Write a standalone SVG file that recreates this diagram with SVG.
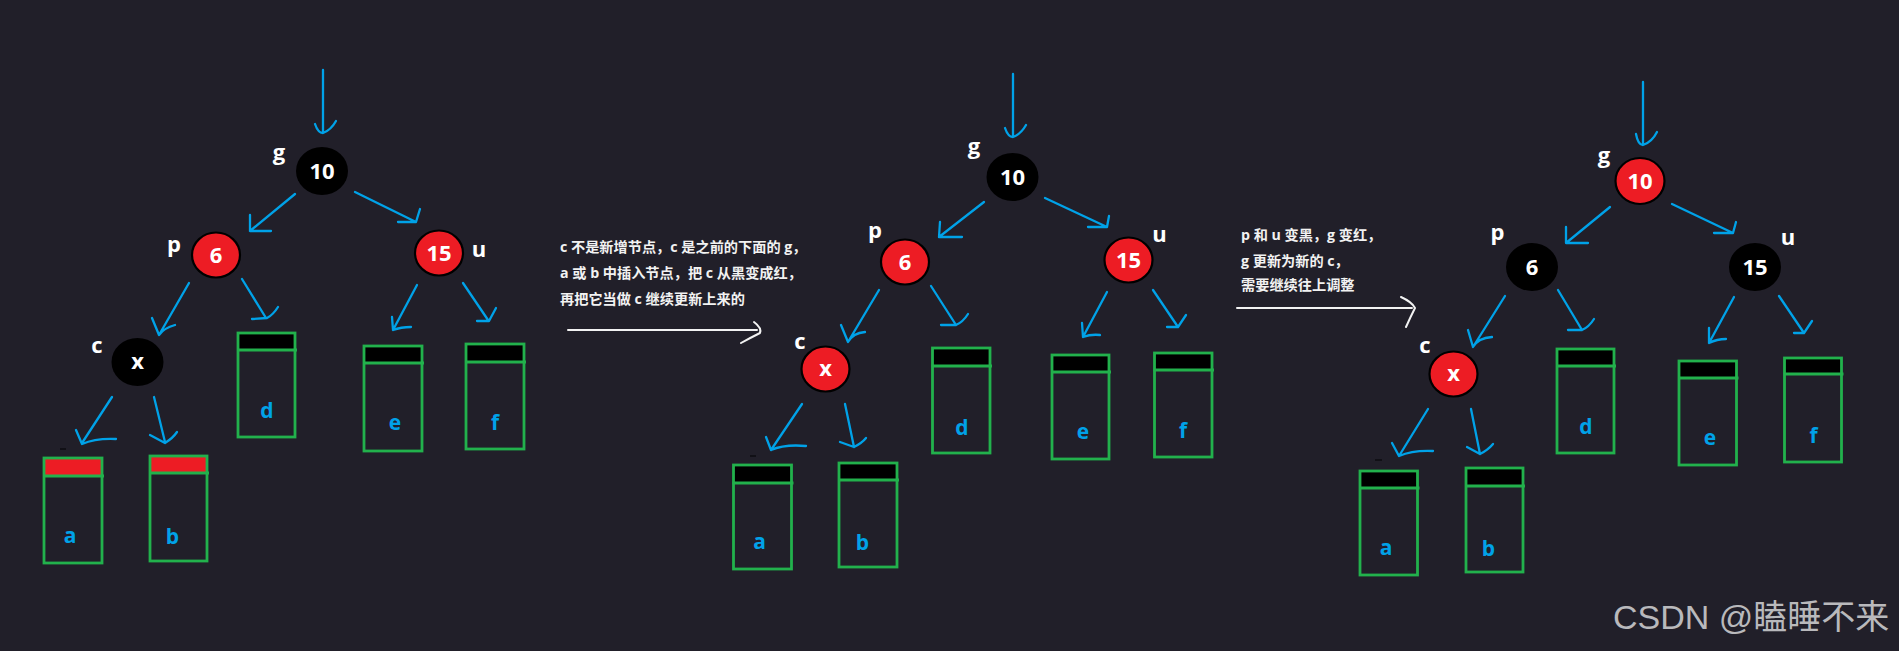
<svg xmlns="http://www.w3.org/2000/svg" width="1899" height="651" viewBox="0 0 1899 651">
<style>
.bg{fill:#211f29}
.ar{fill:none;stroke:#00a2e8;stroke-width:2.3;stroke-linecap:round;stroke-linejoin:round}
.wa{fill:none;stroke:#f2f2f2;stroke-width:2;stroke-linecap:round;stroke-linejoin:round}
.blk{fill:#000}
.red{fill:#ed1c24;stroke:#000;stroke-width:2.2}
.nt{font-family:"Open Sans","DejaVu Sans",sans-serif;font-weight:bold;font-size:22px;fill:#fff;text-anchor:middle}
.lb{font-family:"Open Sans","DejaVu Sans",sans-serif;font-weight:bold;font-size:22px;fill:#fff;text-anchor:middle}
.bl{font-family:"Open Sans","DejaVu Sans",sans-serif;font-weight:bold;font-size:21px;fill:#00a2e8;text-anchor:middle}
.box{fill:none;stroke:#22b14c;stroke-width:2.8}
.hl{stroke:#22b14c;stroke-width:2.8}
.hb{fill:#000}
.hr{fill:#ed1c24}
.tx{font-family:"Open Sans","Noto Sans CJK SC",sans-serif;font-weight:bold;font-size:14.2px;fill:#f2f2f2}
.wm{font-family:"Liberation Sans","Noto Sans CJK SC",sans-serif;font-size:34px;fill:#b9b9bc}
.dash{stroke:#0c0c10;stroke-width:1.5}
</style>
<rect class="bg" x="0" y="0" width="1899" height="651"/>

<g id="connectors">
  <!-- panel 1 -->
  <path class="ar" d="M323,70 L323,133 M315,124 Q318,133 323,133 Q331,130 336,121"/>
  <path class="ar" d="M295,194 L250,231 M250,215 L250,231 L271,231"/>
  <path class="ar" d="M355,192 L416,222 M398,222 L416,222 L420,209"/>
  <path class="ar" d="M189,283 L159,335 M152,318 L159,335 Q164,328 175,325"/>
  <path class="ar" d="M242,279 L266,318 M252,319 L267,318 Q273,315 278,307"/>
  <path class="ar" d="M417,285 L393,330 M392,317 L393,330 Q401,327 411,327"/>
  <path class="ar" d="M463,283 L488,320 M477,321 L489,321 L496,308"/>
  <path class="ar" d="M112,397 L82,443 M76,430 L82,444 Q96,438 116,439"/>
  <path class="ar" d="M154,397 L165,442 M150,435 L165,443 Q173,438 177,432"/>
  <!-- panel 2 -->
  <path class="ar" d="M1013,74 L1013,137 M1005,128 Q1008,137 1013,137 Q1021,134 1026,125"/>
  <path class="ar" d="M984,202 L939,237 M940,222 L939,237 L962,237"/>
  <path class="ar" d="M1045,198 L1107,227 M1088,227 L1107,227 L1109,216"/>
  <path class="ar" d="M879,290 L848,342 M841,325 L848,342 Q853,333 865,332"/>
  <path class="ar" d="M931,286 L956,325 M941,325 L956,325 Q963,322 968,314"/>
  <path class="ar" d="M1107,292 L1083,337 M1082,323 L1083,337 Q1091,334 1100,335"/>
  <path class="ar" d="M1153,290 L1178,327 M1167,327 L1178,327 L1186,315"/>
  <path class="ar" d="M802,404 L771,450 M766,437 L771,450 Q785,444 806,446"/>
  <path class="ar" d="M845,404 L854,447 M840,442 L854,447 Q862,443 866,438"/>
  <!-- panel 3 -->
  <path class="ar" d="M1643,82 L1643,145 M1636,134 Q1638,145 1643,145 Q1652,142 1657,132"/>
  <path class="ar" d="M1610,207 L1566,243 M1566,227 L1566,243 L1588,243"/>
  <path class="ar" d="M1672,204 L1733,233 M1714,233 L1733,233 L1736,222"/>
  <path class="ar" d="M1505,296 L1473,347 M1468,330 L1473,347 Q1478,338 1492,337"/>
  <path class="ar" d="M1558,290 L1582,330 M1568,330 L1582,330 Q1589,327 1594,319"/>
  <path class="ar" d="M1734,297 L1709,343 M1709,328 L1709,343 Q1717,339 1726,339"/>
  <path class="ar" d="M1779,296 L1804,333 M1794,333 L1804,333 L1812,321"/>
  <path class="ar" d="M1428,409 L1399,456 M1392,443 L1399,456 Q1413,450 1433,451"/>
  <path class="ar" d="M1471,409 L1480,454 M1467,447 L1480,454 Q1488,450 1493,444"/>
  <!-- white transition arrows -->
  <path class="wa" d="M568,330 L757,330 M754,322 Q762,328 760,333 Q750,338 741,343"/>
  <path class="wa" d="M1237,308 L1412,308 M1401,297 Q1412,302 1415,308 Q1410,318 1406,327"/>
</g>

<!-- ===== Panel 1 ===== -->
<g id="p1-g"><ellipse class="blk" cx="322" cy="171" rx="26" ry="24"/><text class="nt" x="322" y="179">10</text><text class="lb" x="279" y="160">g</text></g>
<g id="p1-p"><ellipse class="red" cx="216" cy="255" rx="24" ry="22.5"/><text class="nt" x="216" y="263">6</text><text class="lb" x="174" y="252">p</text></g>
<g id="p1-u"><ellipse class="red" cx="439" cy="253" rx="24" ry="22.5"/><text class="nt" x="439" y="261">15</text><text class="lb" x="479" y="257">u</text></g>
<g id="p1-c"><ellipse class="blk" cx="137.5" cy="362" rx="26" ry="24"/><text class="nt" x="137.5" y="369">x</text><text class="lb" x="97" y="353">c</text></g>
<g id="p1-a"><rect class="hr" x="44" y="458" width="58" height="18"/><rect class="box" x="44" y="458" width="58" height="105"/><line class="hl" x1="43" y1="476" x2="104" y2="476"/><text class="bl" x="70" y="543">a</text><line class="dash" x1="60" y1="449" x2="66" y2="449"/></g>
<g id="p1-b"><rect class="hr" x="150" y="456" width="57" height="17"/><rect class="box" x="150" y="456" width="57" height="105"/><line class="hl" x1="149" y1="473" x2="209" y2="473"/><text class="bl" x="172.5" y="544">b</text></g>
<g id="p1-d"><rect class="hb" x="238" y="333" width="57" height="17"/><rect class="box" x="238" y="333" width="57" height="104"/><line class="hl" x1="237" y1="350" x2="297" y2="350"/><text class="bl" x="267" y="418">d</text></g>
<g id="p1-e"><rect class="hb" x="364" y="346" width="58" height="17"/><rect class="box" x="364" y="346" width="58" height="105"/><line class="hl" x1="363" y1="363" x2="424" y2="363"/><text class="bl" x="395" y="430">e</text></g>
<g id="p1-f"><rect class="hb" x="466" y="344" width="58" height="18"/><rect class="box" x="466" y="344" width="58" height="105"/><line class="hl" x1="465" y1="362" x2="526" y2="362"/><text class="bl" x="495" y="430">f</text></g>

<g id="note1">
  <text class="tx" x="560" y="252">c 不是新增节点，c 是之前的下面的 g，</text>
  <text class="tx" x="560" y="278">a 或 b 中插入节点，把 c 从黑变成红，</text>
  <text class="tx" x="560" y="304">再把它当做 c 继续更新上来的</text>
</g>

<!-- ===== Panel 2 ===== -->
<g id="p2-g"><ellipse class="blk" cx="1012.5" cy="177" rx="26" ry="24"/><text class="nt" x="1012.5" y="185">10</text><text class="lb" x="974" y="154">g</text></g>
<g id="p2-p"><ellipse class="red" cx="905" cy="262" rx="24" ry="22.5"/><text class="nt" x="905" y="270">6</text><text class="lb" x="875" y="238">p</text></g>
<g id="p2-u"><ellipse class="red" cx="1128.5" cy="260" rx="24" ry="22.5"/><text class="nt" x="1128.5" y="268">15</text><text class="lb" x="1159.5" y="242">u</text></g>
<g id="p2-c"><ellipse class="red" cx="825.5" cy="369" rx="24" ry="22.5"/><text class="nt" x="825.5" y="376">x</text><text class="lb" x="800" y="349">c</text></g>
<g id="p2-a"><rect class="hb" x="733.5" y="465" width="58" height="18"/><rect class="box" x="733.5" y="465" width="58" height="104"/><line class="hl" x1="732.5" y1="483" x2="793.5" y2="483"/><text class="bl" x="759.5" y="549">a</text><line class="dash" x1="750" y1="456" x2="756" y2="456"/></g>
<g id="p2-b"><rect class="hb" x="839" y="463" width="58" height="17"/><rect class="box" x="839" y="463" width="58" height="104"/><line class="hl" x1="838" y1="480" x2="899" y2="480"/><text class="bl" x="862.5" y="550">b</text></g>
<g id="p2-d"><rect class="hb" x="932.5" y="348" width="57.5" height="18"/><rect class="box" x="932.5" y="348" width="57.5" height="105"/><line class="hl" x1="931.5" y1="366" x2="992" y2="366"/><text class="bl" x="962" y="435">d</text></g>
<g id="p2-e"><rect class="hb" x="1052" y="355" width="57" height="17"/><rect class="box" x="1052" y="355" width="57" height="104"/><line class="hl" x1="1051" y1="372" x2="1111" y2="372"/><text class="bl" x="1083" y="439">e</text></g>
<g id="p2-f"><rect class="hb" x="1154.5" y="353" width="57.5" height="17"/><rect class="box" x="1154.5" y="353" width="57.5" height="104"/><line class="hl" x1="1153.5" y1="370" x2="1214" y2="370"/><text class="bl" x="1183" y="438">f</text></g>

<g id="note2">
  <text class="tx" x="1241" y="240">p 和 u 变黑，g 变红，</text>
  <text class="tx" x="1241" y="266">g 更新为新的 c，</text>
  <text class="tx" x="1241" y="290">需要继续往上调整</text>
</g>

<!-- ===== Panel 3 ===== -->
<g id="p3-g"><ellipse class="red" cx="1640" cy="181" rx="24.5" ry="23"/><text class="nt" x="1640" y="189">10</text><text class="lb" x="1604" y="163">g</text></g>
<g id="p3-p"><ellipse class="blk" cx="1532" cy="267" rx="26" ry="24"/><text class="nt" x="1532" y="275">6</text><text class="lb" x="1497.5" y="240">p</text></g>
<g id="p3-u"><ellipse class="blk" cx="1755" cy="267" rx="26" ry="24"/><text class="nt" x="1755" y="275">15</text><text class="lb" x="1788" y="245">u</text></g>
<g id="p3-c"><ellipse class="red" cx="1453.5" cy="374" rx="24" ry="22.5"/><text class="nt" x="1453.5" y="381">x</text><text class="lb" x="1425" y="353">c</text></g>
<g id="p3-a"><rect class="hb" x="1360" y="471" width="57.5" height="17"/><rect class="box" x="1360" y="471" width="57.5" height="104"/><line class="hl" x1="1359" y1="488" x2="1419.5" y2="488"/><text class="bl" x="1386" y="555">a</text><line class="dash" x1="1375" y1="460" x2="1382" y2="460"/></g>
<g id="p3-b"><rect class="hb" x="1466" y="468" width="57" height="18"/><rect class="box" x="1466" y="468" width="57" height="104"/><line class="hl" x1="1465" y1="486" x2="1525" y2="486"/><text class="bl" x="1488.5" y="556">b</text></g>
<g id="p3-d"><rect class="hb" x="1557" y="349" width="57" height="17"/><rect class="box" x="1557" y="349" width="57" height="104"/><line class="hl" x1="1556" y1="366" x2="1616" y2="366"/><text class="bl" x="1586" y="434">d</text></g>
<g id="p3-e"><rect class="hb" x="1679" y="361" width="57.5" height="17"/><rect class="box" x="1679" y="361" width="57.5" height="104"/><line class="hl" x1="1678" y1="378" x2="1738.5" y2="378"/><text class="bl" x="1710" y="445">e</text></g>
<g id="p3-f"><rect class="hb" x="1784.5" y="358" width="57" height="16"/><rect class="box" x="1784.5" y="358" width="57" height="104"/><line class="hl" x1="1783.5" y1="374" x2="1843.5" y2="374"/><text class="bl" x="1813.5" y="443">f</text></g>

<g id="watermark"><text class="wm" x="1613" y="629">CSDN @瞌睡不来</text></g>
</svg>
